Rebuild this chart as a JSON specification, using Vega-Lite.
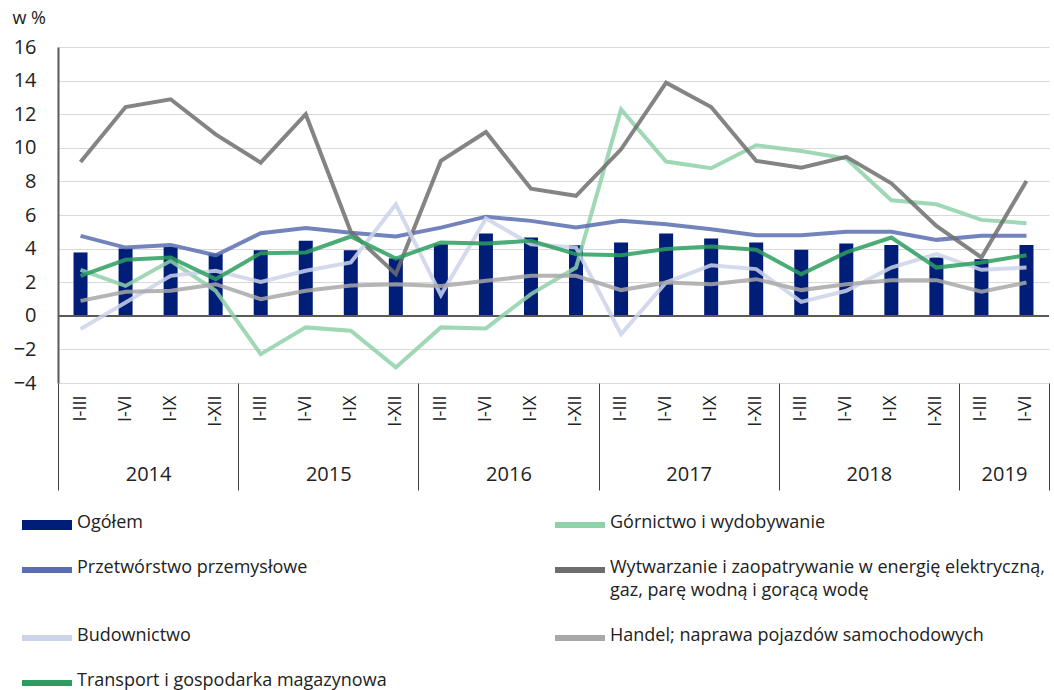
{
  "$schema": "https://vega.github.io/schema/vega-lite/v6.json",
  "autosize": "none",
  "width": 991,
  "height": 336,
  "padding": {"left": 58, "top": 47, "right": 5, "bottom": 307},
  "config": {
    "font": "Open Sans",
    "view": {"stroke": null},
    "axis": {"labelColor": "#222222", "labelFont": "Open Sans"}
  },
  "datasets": {
    "main": [
      {"k": "2014|I-III", "Ogółem": 3.77, "Górnictwo i wydobywanie": 2.74, "Przetwórstwo przemysłowe": 4.76, "Wytwarzanie i zaopatrywanie w energię elektryczną,|gaz, parę wodną i gorącą wodę": 9.16, "Budownictwo": -0.79, "Handel; naprawa pojazdów samochodowych": 0.89, "Transport i gospodarka magazynowa": 2.38},
      {"k": "2014|I-VI", "Ogółem": 4.0, "Górnictwo i wydobywanie": 1.78, "Przetwórstwo przemysłowe": 4.06, "Wytwarzanie i zaopatrywanie w energię elektryczną,|gaz, parę wodną i gorącą wodę": 12.43, "Budownictwo": 0.79, "Handel; naprawa pojazdów samochodowych": 1.43, "Transport i gospodarka magazynowa": 3.33},
      {"k": "2014|I-IX", "Ogółem": 4.1, "Górnictwo i wydobywanie": 3.27, "Przetwórstwo przemysłowe": 4.22, "Wytwarzanie i zaopatrywanie w energię elektryczną,|gaz, parę wodną i gorącą wodę": 12.89, "Budownictwo": 2.38, "Handel; naprawa pojazdów samochodowych": 1.49, "Transport i gospodarka magazynowa": 3.47},
      {"k": "2014|I-XII", "Ogółem": 3.7, "Górnictwo i wydobywanie": 1.49, "Przetwórstwo przemysłowe": 3.6, "Wytwarzanie i zaopatrywanie w energię elektryczną,|gaz, parę wodną i gorącą wodę": 10.8, "Budownictwo": 2.68, "Handel; naprawa pojazdów samochodowych": 1.88, "Transport i gospodarka magazynowa": 2.18},
      {"k": "2015|I-III", "Ogółem": 3.9, "Górnictwo i wydobywanie": -2.28, "Przetwórstwo przemysłowe": 4.92, "Wytwarzanie i zaopatrywanie w energię elektryczną,|gaz, parę wodną i gorącą wodę": 9.12, "Budownictwo": 2.02, "Handel; naprawa pojazdów samochodowych": 0.99, "Transport i gospodarka magazynowa": 3.73},
      {"k": "2015|I-VI", "Ogółem": 4.46, "Górnictwo i wydobywanie": -0.69, "Przetwórstwo przemysłowe": 5.23, "Wytwarzanie i zaopatrywanie w energię elektryczną,|gaz, parę wodną i gorącą wodę": 12.0, "Budownictwo": 2.68, "Handel; naprawa pojazdów samochodowych": 1.49, "Transport i gospodarka magazynowa": 3.77},
      {"k": "2015|I-IX", "Ogółem": 3.9, "Górnictwo i wydobywanie": -0.89, "Przetwórstwo przemysłowe": 4.94, "Wytwarzanie i zaopatrywanie w energię elektryczną,|gaz, parę wodną i gorącą wodę": 5.0, "Budownictwo": 3.17, "Handel; naprawa pojazdów samochodowych": 1.8, "Transport i gospodarka magazynowa": 4.72},
      {"k": "2015|I-XII", "Ogółem": 3.42, "Górnictwo i wydobywanie": -3.07, "Przetwórstwo przemysłowe": 4.72, "Wytwarzanie i zaopatrywanie w energię elektryczną,|gaz, parę wodną i gorącą wodę": 2.48, "Budownictwo": 6.64, "Handel; naprawa pojazdów samochodowych": 1.88, "Transport i gospodarka magazynowa": 3.41},
      {"k": "2016|I-III", "Ogółem": 4.26, "Górnictwo i wydobywanie": -0.69, "Przetwórstwo przemysłowe": 5.25, "Wytwarzanie i zaopatrywanie w energię elektryczną,|gaz, parę wodną i gorącą wodę": 9.22, "Budownictwo": 1.23, "Handel; naprawa pojazdów samochodowych": 1.78, "Transport i gospodarka magazynowa": 4.36},
      {"k": "2016|I-VI", "Ogółem": 4.9, "Górnictwo i wydobywanie": -0.75, "Przetwórstwo przemysłowe": 5.9, "Wytwarzanie i zaopatrywanie w energię elektryczną,|gaz, parę wodną i gorącą wodę": 10.94, "Budownictwo": 5.79, "Handel; naprawa pojazdów samochodowych": 2.08, "Transport i gospodarka magazynowa": 4.3},
      {"k": "2016|I-IX", "Ogółem": 4.66, "Górnictwo i wydobywanie": 1.29, "Przetwórstwo przemysłowe": 5.65, "Wytwarzanie i zaopatrywanie w energię elektryczną,|gaz, parę wodną i gorącą wodę": 7.57, "Budownictwo": 4.26, "Handel; naprawa pojazdów samochodowych": 2.38, "Transport i gospodarka magazynowa": 4.46},
      {"k": "2016|I-XII", "Ogółem": 4.2, "Górnictwo i wydobywanie": 2.87, "Przetwórstwo przemysłowe": 5.25, "Wytwarzanie i zaopatrywanie w energię elektryczną,|gaz, parę wodną i gorącą wodę": 7.14, "Budownictwo": 4.06, "Handel; naprawa pojazdów samochodowych": 2.38, "Transport i gospodarka magazynowa": 3.67},
      {"k": "2017|I-III", "Ogółem": 4.36, "Górnictwo i wydobywanie": 12.29, "Przetwórstwo przemysłowe": 5.65, "Wytwarzanie i zaopatrywanie w energię elektryczną,|gaz, parę wodną i gorącą wodę": 9.91, "Budownictwo": -1.09, "Handel; naprawa pojazdów samochodowych": 1.53, "Transport i gospodarka magazynowa": 3.61},
      {"k": "2017|I-VI", "Ogółem": 4.9, "Górnictwo i wydobywanie": 9.18, "Przetwórstwo przemysłowe": 5.45, "Wytwarzanie i zaopatrywanie w energię elektryczną,|gaz, parę wodną i gorącą wodę": 13.88, "Budownictwo": 1.98, "Handel; naprawa pojazdów samochodowych": 1.98, "Transport i gospodarka magazynowa": 3.97},
      {"k": "2017|I-IX", "Ogółem": 4.6, "Górnictwo i wydobywanie": 8.78, "Przetwórstwo przemysłowe": 5.15, "Wytwarzanie i zaopatrywanie w energię elektryczną,|gaz, parę wodną i gorącą wodę": 12.43, "Budownictwo": 3.01, "Handel; naprawa pojazdów samochodowych": 1.88, "Transport i gospodarka magazynowa": 4.12},
      {"k": "2017|I-XII", "Ogółem": 4.36, "Górnictwo i wydobywanie": 10.15, "Przetwórstwo przemysłowe": 4.8, "Wytwarzanie i zaopatrywanie w energię elektryczną,|gaz, parę wodną i gorącą wodę": 9.22, "Budownictwo": 2.78, "Handel; naprawa pojazdów samochodowych": 2.18, "Transport i gospodarka magazynowa": 3.93},
      {"k": "2018|I-III", "Ogółem": 3.93, "Górnictwo i wydobywanie": 9.81, "Przetwórstwo przemysłowe": 4.8, "Wytwarzanie i zaopatrywanie w energię elektryczną,|gaz, parę wodną i gorącą wodę": 8.82, "Budownictwo": 0.83, "Handel; naprawa pojazdów samochodowych": 1.53, "Transport i gospodarka magazynowa": 2.48},
      {"k": "2018|I-VI", "Ogółem": 4.3, "Górnictwo i wydobywanie": 9.36, "Przetwórstwo przemysłowe": 5.0, "Wytwarzanie i zaopatrywanie w energię elektryczną,|gaz, parę wodną i gorącą wodę": 9.46, "Budownictwo": 1.49, "Handel; naprawa pojazdów samochodowych": 1.88, "Transport i gospodarka magazynowa": 3.77},
      {"k": "2018|I-IX", "Ogółem": 4.22, "Górnictwo i wydobywanie": 6.88, "Przetwórstwo przemysłowe": 5.0, "Wytwarzanie i zaopatrywanie w energię elektryczną,|gaz, parę wodną i gorącą wodę": 7.89, "Budownictwo": 2.87, "Handel; naprawa pojazdów samochodowych": 2.12, "Transport i gospodarka magazynowa": 4.66},
      {"k": "2018|I-XII", "Ogółem": 3.47, "Górnictwo i wydobywanie": 6.64, "Przetwórstwo przemysłowe": 4.52, "Wytwarzanie i zaopatrywanie w energię elektryczną,|gaz, parę wodną i gorącą wodę": 5.35, "Budownictwo": 3.67, "Handel; naprawa pojazdów samochodowych": 2.12, "Transport i gospodarka magazynowa": 2.87},
      {"k": "2019|I-III", "Ogółem": 3.37, "Górnictwo i wydobywanie": 5.71, "Przetwórstwo przemysłowe": 4.76, "Wytwarzanie i zaopatrywanie w energię elektryczną,|gaz, parę wodną i gorącą wodę": 3.47, "Budownictwo": 2.74, "Handel; naprawa pojazdów samochodowych": 1.43, "Transport i gospodarka magazynowa": 3.17},
      {"k": "2019|I-VI", "Ogółem": 4.22, "Górnictwo i wydobywanie": 5.51, "Przetwórstwo przemysłowe": 4.76, "Wytwarzanie i zaopatrywanie w energię elektryczną,|gaz, parę wodną i gorącą wodę": 8.03, "Budownictwo": 2.87, "Handel; naprawa pojazdów samochodowych": 1.98, "Transport i gospodarka magazynowa": 3.61}
    ],
    "bounds": [{"t": 0}, {"t": 22}]
  },
  "layer": [
    {
      "data": {"name": "main"},
      "transform": [
        {"fold": ["Ogółem", "Górnictwo i wydobywanie", "Przetwórstwo przemysłowe", "Wytwarzanie i zaopatrywanie w energię elektryczną,|gaz, parę wodną i gorącą wodę", "Budownictwo", "Handel; naprawa pojazdów samochodowych", "Transport i gospodarka magazynowa"], "as": ["series", "value"]}
      ],
      "encoding": {
        "x": {
          "field": "k", "type": "nominal", "sort": null,
          "scale": {"paddingInner": 0, "paddingOuter": 0},
          "axis": {
            "orient": "bottom", "title": null, "ticks": false, "domain": false, "grid": false,
            "labelAngle": 270, "labelPadding": 12, "labelFontSize": 18,
            "labelExpr": "split(datum.label, '|')[1]"
          }
        },
        "y": {
          "field": "value", "type": "quantitative",
          "scale": {"domain": [-4, 16], "nice": false, "zero": false},
          "axis": {
            "values": [-4, -2, 0, 2, 4, 6, 8, 10, 12, 14, 16],
            "labelOverlap": false,
            "title": "w %", "titleAngle": 0, "titleAlign": "left", "titleBaseline": "middle",
            "titleX": -46, "titleY": -29, "titleFontSize": 18, "titleFontWeight": "normal", "titleColor": "#222222", "titleFont": "Open Sans",
            "ticks": false, "labelFontSize": 20, "labelPadding": 22,
            "domainColor": "#595959", "domainWidth": 2,
            "gridColor": "#d9d9d9", "gridWidth": 1.2
          }
        }
      },
      "layer": [
        {
          "transform": [{"filter": "datum.series == 'Ogółem'"}],
          "mark": {"type": "bar", "size": 14},
          "encoding": {
            "color": {
              "field": "series", "type": "nominal",
              "scale": {
                "domain": ["Ogółem", "Górnictwo i wydobywanie", "Przetwórstwo przemysłowe", "Wytwarzanie i zaopatrywanie w energię elektryczną,|gaz, parę wodną i gorącą wodę", "Budownictwo", "Handel; naprawa pojazdów samochodowych", "Transport i gospodarka magazynowa"],
                "range": ["#001d77", "#8fd1a9", "#5b6db0", "#6e6e6e", "#cdd3ea", "#a8a8a8", "#2d9d5f"]
              },
              "legend": {
                "orient": "none", "legendX": -36, "legendY": 453,
                "direction": "horizontal",
                "columns": 2, "columnPadding": 168, "rowPadding": 13,
                "title": null, "labelFont": "Open Sans", "labelFontSize": 18, "labelColor": "#222222",
                "labelOffset": 5, "labelLimit": 700, "labelBaseline": "top",
                "labelExpr": "split(datum.label, '|')",
                "symbolSize": 2500, "symbolType": "M-1,-0.12H1V0.12H-1Z", "symbolStrokeWidth": 0,
                "encode": {
                  "labels": {"update": {"dy": {"value": -11}, "lineHeight": {"value": 23}}},
                  "symbols": {"update": {
                    "shape": {"signal": "datum.value == 'Ogółem' ? 'M-1,-0.2H1V0.2H-1Z' : 'M-1,-0.12H1V0.12H-1Z'"},
                    "fill": {"scale": "color", "field": "value"},
                    "strokeWidth": {"value": 0},
                    "opacity": {"value": 1}
                  }}
                }
              }
            }
          }
        },
        {
          "mark": {"type": "rule", "color": "#595959", "strokeWidth": 1.5},
          "encoding": {"y": {"datum": 0}, "x": {"value": 0}, "x2": {"value": 991}}
        },
        {
          "transform": [{"filter": "datum.series != 'Ogółem'"}],
          "mark": {"type": "line", "strokeWidth": 4, "opacity": 0.85},
          "encoding": {
            "color": {"field": "series", "type": "nominal"}
          }
        }
      ]
    },
    {
      "data": {"name": "bounds"},
      "mark": {"type": "point", "opacity": 0},
      "encoding": {
        "x": {
          "field": "t", "type": "quantitative",
          "scale": {"domain": [0, 22], "nice": false, "zero": false},
          "axis": {
            "orient": "bottom", "title": null, "values": [0, 4, 8, 12, 16, 20, 22],
            "labels": false, "domain": false, "grid": false,
            "tickSize": 107, "tickColor": "#404040", "tickWidth": 1
          }
        }
      }
    },
    {
      "data": {"name": "bounds"},
      "mark": {"type": "point", "opacity": 0},
      "encoding": {
        "x": {
          "field": "t", "type": "quantitative",
          "scale": {"domain": [0, 22], "nice": false, "zero": false},
          "axis": {
            "orient": "bottom", "title": null, "values": [2, 6, 10, 14, 18, 21],
            "ticks": false, "domain": false, "grid": false,
            "labelFontSize": 20, "labelPadding": 81, "labelColor": "#222222",
            "labelExpr": "datum.value == 2 ? '2014' : datum.value == 6 ? '2015' : datum.value == 10 ? '2016' : datum.value == 14 ? '2017' : datum.value == 18 ? '2018' : '2019'"
          }
        }
      }
    }
  ],
  "resolve": {"scale": {"x": "independent"}, "axis": {"x": "independent"}}
}
